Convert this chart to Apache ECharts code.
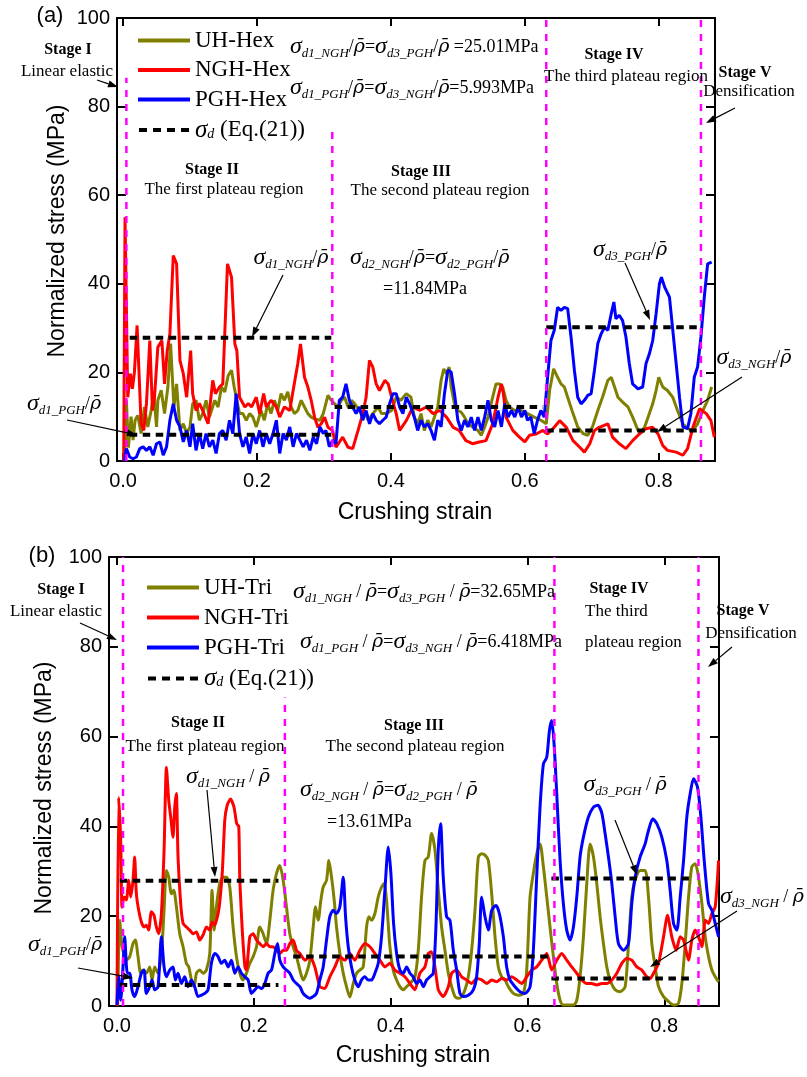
<!DOCTYPE html>
<html><head><meta charset="utf-8">
<script src="https://cdn.jsdelivr.net/npm/echarts@6/dist/echarts.min.js"></script>
<style>html,body{margin:0;padding:0;background:#fff}#c{width:807px;height:1077px}</style>
</head><body><div id="c"></div>
<script>
// ---------- DATA ----------
const xTickValues = [0, 0.2, 0.4, 0.6, 0.8];
const yTickInterval = 20;

// (a) hexagonal
const uhHex = [[0.002,0],[0.005,13.7],[0.008,3],[0.012,10],[0.015,4.7],[0.018,9.2],[0.022,10.3],[0.027,6.2],[0.032,12.2],[0.037,7.7],[0.042,11.4],[0.046,15.2],[0.05,7.7],[0.052,13.7],[0.057,16],[0.062,10.7],[0.067,16.7],[0.071,26.5],[0.076,12.2],[0.08,17.4],[0.085,6.9],[0.09,8.4],[0.095,6.2],[0.1,7.7],[0.104,12.9],[0.109,13.7],[0.114,9.2],[0.119,10.7],[0.124,13.7],[0.129,9.9],[0.137,13.7],[0.142,12.2],[0.147,16.7],[0.152,15.6],[0.157,19.3],[0.162,20.5],[0.166,16.7],[0.169,14.4],[0.174,10.7],[0.179,10.7],[0.184,9.2],[0.189,10.7],[0.194,9.9],[0.199,7.7],[0.206,11.4],[0.211,9.2],[0.216,12.9],[0.221,10.7],[0.226,13.7],[0.231,11.4],[0.236,15.2],[0.241,13.7],[0.246,15.6],[0.251,12.2],[0.256,10.7],[0.261,11.4],[0.266,13.7],[0.271,12.2],[0.276,10.7],[0.281,9.9],[0.286,9.5],[0.294,9.2],[0.299,10.7],[0.306,14.8],[0.311,13.7],[0.316,12.9],[0.321,12.2],[0.326,13.7],[0.331,14.4],[0.336,12.2],[0.341,13.7],[0.346,12.9],[0.356,10.7],[0.361,11.4],[0.366,9.2],[0.373,10.7],[0.381,12.2],[0.386,10.7],[0.393,10.7],[0.401,11.4],[0.408,14.4],[0.415,13.7],[0.423,15.2],[0.43,14.4],[0.435,9.9],[0.44,8.4],[0.445,10.7],[0.45,6.9],[0.455,9.2],[0.46,7.7],[0.465,9.9],[0.47,12.2],[0.475,18.2],[0.479,20.8],[0.483,19.7],[0.487,21.2],[0.49,16.7],[0.495,12.9],[0.5,11.4],[0.505,11],[0.51,9.9],[0.515,8.4],[0.522,7.7],[0.53,6.9],[0.535,5.8],[0.54,7.7],[0.545,9.9],[0.552,14.4],[0.557,17.4],[0.562,17.4],[0.567,16.7],[0.572,13.7],[0.577,12.2],[0.585,11.4],[0.595,11.4],[0.604,10.7],[0.614,9.9],[0.624,9.2],[0.632,8.4],[0.637,15.9],[0.643,20.8],[0.649,18.9],[0.654,17.4],[0.659,16.7],[0.664,14.4],[0.672,10.7],[0.679,7.7],[0.687,6.2],[0.694,5.8],[0.701,7.7],[0.709,11.4],[0.716,14.4],[0.724,18.2],[0.729,18.9],[0.734,16.7],[0.739,14.4],[0.746,13.3],[0.754,12.2],[0.761,9.9],[0.769,6.9],[0.774,6.5],[0.779,7.7],[0.784,9.9],[0.791,12.9],[0.796,15.9],[0.8,18.9],[0.806,16.7],[0.813,15.9],[0.821,14.4],[0.828,11.4],[0.836,8.4],[0.843,7.3],[0.851,6.9],[0.858,8.4],[0.866,11.4],[0.873,13.7],[0.879,16.7]];
const ngHex = [[0.001,0],[0.003,55],[0.0055,30],[0.007,14.4],[0.011,19.7],[0.014,16.3],[0.017,20],[0.021,30.6],[0.027,8.4],[0.031,6.9],[0.035,13],[0.04,27.2],[0.044,11.4],[0.047,14.4],[0.052,25.7],[0.058,27.2],[0.062,17.4],[0.066,24.9],[0.07,28.7],[0.075,46.4],[0.08,44.5],[0.085,22.7],[0.09,19.7],[0.095,14.4],[0.101,24.9],[0.104,15.2],[0.109,11.4],[0.114,13],[0.119,11.4],[0.127,8.4],[0.134,18.2],[0.138,15.2],[0.144,16.7],[0.149,17.4],[0.156,44.5],[0.162,41.5],[0.167,26.4],[0.17,24.9],[0.174,14.4],[0.182,12.2],[0.187,13],[0.192,12.2],[0.199,14.4],[0.204,10.7],[0.21,15.2],[0.214,12.2],[0.221,13.7],[0.229,12.2],[0.234,9.9],[0.241,12.2],[0.249,11.4],[0.254,15.9],[0.261,22],[0.265,26.4],[0.271,18.9],[0.276,16.7],[0.281,13.7],[0.286,9.9],[0.291,7.6],[0.296,8.4],[0.301,9.9],[0.306,7.6],[0.313,6.9],[0.318,3.1],[0.328,5.4],[0.336,3.1],[0.343,2.8],[0.351,6.9],[0.358,10.7],[0.363,14.4],[0.368,22.7],[0.373,21.2],[0.378,17.4],[0.383,15.9],[0.391,18.2],[0.396,17.4],[0.401,14.4],[0.408,10.7],[0.413,6.9],[0.423,9.1],[0.433,12.2],[0.443,11.4],[0.453,12.2],[0.463,10.7],[0.473,11.4],[0.483,9.9],[0.493,7.6],[0.502,6.9],[0.512,4.6],[0.522,3.9],[0.532,4.3],[0.542,4.6],[0.552,8.4],[0.56,14.4],[0.565,17.4],[0.568,15.2],[0.572,9.9],[0.582,6.9],[0.592,5.4],[0.6,4.3],[0.607,5.8],[0.617,6.1],[0.627,6.9],[0.634,6.1],[0.642,7.3],[0.652,9.1],[0.662,7.6],[0.672,4.6],[0.682,3.1],[0.689,2],[0.697,3.9],[0.704,6.9],[0.711,7.6],[0.724,8.4],[0.731,5.4],[0.741,3.9],[0.751,2.8],[0.761,4.6],[0.771,6.1],[0.781,7.3],[0.791,7.6],[0.799,6.1],[0.806,3.5],[0.813,2.4],[0.826,2],[0.836,1.3],[0.843,2.8],[0.851,7.6],[0.861,11.8],[0.871,10.7],[0.878,9.1],[0.883,5.4]];
const pgHex = [[0.002,0],[0.005,2.8],[0.01,0.9],[0.015,0.5],[0.02,0.9],[0.025,2.8],[0.03,3.2],[0.035,2.4],[0.04,3.2],[0.045,1.3],[0.05,3.9],[0.055,4.3],[0.06,1.3],[0.065,3.2],[0.07,9.2],[0.075,12.9],[0.08,9.2],[0.085,7.7],[0.09,4.3],[0.095,6.9],[0.1,3.2],[0.104,8.4],[0.109,2.4],[0.114,6.2],[0.119,2.8],[0.124,6.2],[0.129,3.2],[0.134,4.7],[0.139,1.7],[0.144,6.2],[0.149,6.9],[0.154,4.7],[0.159,9.2],[0.164,6.2],[0.169,15.2],[0.174,6.2],[0.179,3.2],[0.184,5.4],[0.189,1.7],[0.194,6.2],[0.199,3.9],[0.204,6.9],[0.209,3.2],[0.214,6.2],[0.219,3.9],[0.224,6.2],[0.229,9.2],[0.234,1.7],[0.239,6.2],[0.244,4.7],[0.249,7.7],[0.254,3.2],[0.259,6.2],[0.264,4.7],[0.269,3.2],[0.274,4.7],[0.279,2.4],[0.284,5.4],[0.289,3.9],[0.294,7.7],[0.299,6.2],[0.303,6.9],[0.308,3.2],[0.313,4.7],[0.318,3.9],[0.323,13.7],[0.328,14.4],[0.333,17.4],[0.338,13.7],[0.343,12.2],[0.348,10.7],[0.353,12.2],[0.358,9.2],[0.363,11.4],[0.368,8.4],[0.373,10.7],[0.378,9.2],[0.383,8.4],[0.388,9.2],[0.393,9.9],[0.398,12.9],[0.403,15.2],[0.408,15.2],[0.413,12.2],[0.418,10.7],[0.423,14.4],[0.428,12.9],[0.435,9.9],[0.44,6.9],[0.445,9.2],[0.45,7.7],[0.455,8.4],[0.46,6.9],[0.465,4.7],[0.47,9.2],[0.475,7.7],[0.48,15.2],[0.485,20.5],[0.49,20.1],[0.495,15.2],[0.5,9.2],[0.505,6.9],[0.51,9.2],[0.515,7.7],[0.52,9.9],[0.525,6.9],[0.53,9.9],[0.535,6.9],[0.54,9.9],[0.545,13.7],[0.55,9.2],[0.555,7.7],[0.56,11.4],[0.565,7.7],[0.57,12.9],[0.575,9.9],[0.58,11.4],[0.585,9.9],[0.59,12.2],[0.595,9.9],[0.6,11.4],[0.604,9.2],[0.609,9.9],[0.614,6.2],[0.619,9.2],[0.624,11.4],[0.629,9.9],[0.634,18.9],[0.639,27.2],[0.644,29.5],[0.649,34.7],[0.654,34],[0.659,34.7],[0.664,34.4],[0.669,28],[0.674,20.5],[0.679,14.4],[0.684,12.9],[0.689,13.7],[0.694,14.8],[0.699,15.2],[0.704,20.5],[0.709,26.5],[0.714,28.7],[0.719,30.2],[0.724,29.5],[0.729,33.2],[0.733,35.9],[0.736,32.1],[0.741,32.9],[0.746,31.7],[0.751,28],[0.756,22],[0.761,17.4],[0.769,16.3],[0.776,16.7],[0.781,22],[0.786,24.2],[0.791,27.2],[0.796,33.2],[0.801,40],[0.804,41.5],[0.809,39.2],[0.816,37],[0.821,29.5],[0.826,22],[0.831,14.4],[0.836,7.7],[0.843,7.3],[0.848,10.7],[0.853,18.9],[0.858,21.2],[0.863,28],[0.868,37],[0.873,44.5],[0.879,44.9]];
// sigma_d segments: [x start, x end, level]
const sigdHex = [[0.01,0.311,27.8],[0.01,0.311,5.9],[0.316,0.627,12.2],[0.632,0.861,30.2],[0.632,0.861,6.9]];
// stage boundaries: [x, top]
const stageHex = [[0.005,86.5],[0.3125,75.7],[0.632,100],[0.863,100]];

// (b) triangular
const uhTri = [[0.001,0],[0.0039,19.1],[0.0073,13.2],[0.0102,11.7],[0.0137,10.2],[0.0185,11],[0.0234,13.9],[0.0268,14.7],[0.0307,11],[0.0346,7.3],[0.038,8],[0.0429,7.3],[0.0478,8.7],[0.0512,5.8],[0.0551,8.7],[0.06,7.3],[0.0649,11.7],[0.0688,21.3],[0.0722,30.2],[0.0756,28.7],[0.0795,25],[0.0829,25.8],[0.0868,22.1],[0.0917,16.1],[0.0966,13.2],[0.1014,9.5],[0.1049,8.7],[0.1088,5.8],[0.1127,4.3],[0.1161,7.3],[0.1209,8],[0.1258,7.3],[0.1307,8],[0.1356,11.7],[0.139,25.8],[0.1419,16.9],[0.1453,22.1],[0.1502,27.3],[0.1551,28.7],[0.16,28.7],[0.1648,26.5],[0.1697,17.6],[0.1746,11],[0.1795,7.3],[0.1843,5.8],[0.1892,7.3],[0.1941,9.5],[0.199,11],[0.2039,13.2],[0.2087,17.6],[0.2136,16.1],[0.2185,13.9],[0.2234,19.1],[0.2282,25.8],[0.2331,29.5],[0.238,31.3],[0.2429,28],[0.2477,22.1],[0.2526,16.1],[0.2575,13.2],[0.2624,11],[0.2673,8],[0.2721,5.8],[0.277,7.3],[0.2819,10.2],[0.2868,17.6],[0.2902,22.1],[0.2941,19.1],[0.298,23.6],[0.3014,26.5],[0.3063,28],[0.3097,32.4],[0.3136,28.7],[0.3175,23.6],[0.3209,17.6],[0.3258,11.7],[0.3307,7.3],[0.3355,4.3],[0.3404,2],[0.3453,5],[0.3502,7.3],[0.355,8],[0.3599,8.7],[0.3648,17.6],[0.3682,19.9],[0.3721,19.1],[0.377,20.6],[0.3819,24.3],[0.3867,26.5],[0.3906,27.3],[0.394,23.6],[0.3989,13.2],[0.4038,8],[0.4087,5.8],[0.4136,4.3],[0.4184,3.6],[0.4233,4.3],[0.4282,5],[0.4355,6.5],[0.4404,12.4],[0.4452,24.3],[0.4501,32.4],[0.455,33.2],[0.4599,38.4],[0.4648,34.7],[0.4697,25.8],[0.4745,17.6],[0.4794,12.4],[0.4843,7.3],[0.4892,4.3],[0.4941,2.1],[0.4989,1.7],[0.5038,2.1],[0.5087,3.6],[0.5135,6.5],[0.5184,12.4],[0.5233,21.3],[0.5282,33.2],[0.5331,33.9],[0.5379,33.6],[0.5428,32.4],[0.5477,25],[0.5526,15.4],[0.5574,8.7],[0.5623,6.5],[0.5672,5.8],[0.5721,4.3],[0.5794,2.8],[0.5867,2.4],[0.594,2.8],[0.5989,8],[0.6038,24.3],[0.6086,29.5],[0.6135,33.9],[0.6184,36.1],[0.6233,31],[0.6282,24.3],[0.633,17.6],[0.6379,11],[0.6428,5],[0.6477,1.3],[0.6525,0.2],[0.6672,0.2],[0.6721,1.3],[0.6769,6.5],[0.6818,15.4],[0.6867,27.3],[0.6916,36.1],[0.6965,33.2],[0.7013,27.3],[0.7062,19.9],[0.7111,13.9],[0.716,8.7],[0.7208,5.8],[0.7282,3.6],[0.7355,3.2],[0.7428,4.3],[0.7477,13.9],[0.7525,24.3],[0.7574,28],[0.7647,30.2],[0.772,30.2],[0.7769,24.3],[0.7818,13.9],[0.7867,8.7],[0.7916,4.3],[0.7989,2.1],[0.8062,1],[0.8135,0.2],[0.8208,0.6],[0.8257,5],[0.8306,13.9],[0.8355,24.3],[0.8403,31],[0.8452,31.7],[0.8501,28.7],[0.855,22.8],[0.8599,15.4],[0.8647,11],[0.8696,8],[0.8745,6.5],[0.8794,5.4]];
const ngTri = [[0,0],[0.0024,46.5],[0.0054,36.9],[0.0073,22],[0.0102,24.3],[0.0137,23.6],[0.0171,28],[0.02,24.3],[0.0234,28],[0.0258,33.2],[0.0283,25],[0.0317,21.3],[0.0356,18.7],[0.0395,17.6],[0.0429,18],[0.0463,16.9],[0.0502,21],[0.0541,20.2],[0.0575,17.6],[0.061,16.1],[0.0649,20.6],[0.0688,34.7],[0.0722,53.2],[0.0756,45.8],[0.0785,42.1],[0.0819,37.6],[0.0844,44.3],[0.0868,47.3],[0.0892,33.2],[0.0931,22.8],[0.0966,18.4],[0.1014,17.6],[0.1063,16.9],[0.1112,16.1],[0.1161,16.5],[0.1209,14.7],[0.1258,15.8],[0.1307,17.6],[0.1356,16.9],[0.139,18.7],[0.1429,18],[0.1478,20.6],[0.15,22.8],[0.154,30],[0.1575,41.3],[0.161,44.7],[0.166,46.1],[0.171,44.3],[0.175,40.6],[0.178,40],[0.1795,28],[0.1834,16.1],[0.187,8.7],[0.1892,8],[0.1941,15.4],[0.199,16.1],[0.2039,14.7],[0.2087,13.9],[0.2136,13.2],[0.2185,13.9],[0.2234,13.2],[0.2282,13.2],[0.2331,12.4],[0.238,11.7],[0.2429,12.4],[0.2477,12.4],[0.2526,13.9],[0.2575,14.7],[0.2624,12.4],[0.2673,11.7],[0.2746,10.2],[0.2819,11],[0.2892,8.7],[0.2965,4.3],[0.3038,3.9],[0.3111,6.5],[0.3185,8.7],[0.3258,11],[0.3331,10.2],[0.3404,11.7],[0.3477,10.2],[0.355,12.4],[0.3623,13.9],[0.3697,13.2],[0.377,11.7],[0.3843,10.2],[0.3916,8.7],[0.3989,9.5],[0.4062,8],[0.4136,7.3],[0.4209,6.5],[0.4282,5],[0.4355,3.6],[0.4428,7.3],[0.4501,8.7],[0.455,11.7],[0.4599,12.1],[0.4648,8.7],[0.4697,3.6],[0.477,2.1],[0.4843,4.3],[0.4892,7.3],[0.4965,8],[0.5038,6.5],[0.5111,5.8],[0.5184,5],[0.5257,6.1],[0.5331,5.8],[0.5404,5],[0.5477,5.8],[0.555,5.4],[0.5623,6.1],[0.5696,5.8],[0.5769,6.5],[0.5843,5.8],[0.5916,5],[0.5989,6.5],[0.6062,8],[0.6135,8.7],[0.6208,10.2],[0.6282,11.7],[0.6355,8],[0.6428,10.2],[0.6501,11.7],[0.6574,10.2],[0.6647,8.7],[0.6721,7.3],[0.6794,5.8],[0.6867,5],[0.694,5],[0.7013,4.7],[0.7086,5],[0.716,5],[0.7233,5.8],[0.7306,7.3],[0.7379,9.5],[0.7452,10.6],[0.7525,10.2],[0.7599,8.7],[0.7672,8],[0.7745,6.5],[0.7794,6.1],[0.7843,7.3],[0.7916,9.5],[0.7989,15.4],[0.8047,20.2],[0.811,15.4],[0.8174,12.4],[0.8233,15.4],[0.8282,14.7],[0.8354,10.2],[0.8403,14.7],[0.8452,16.9],[0.8501,15.4],[0.855,13.2],[0.8599,19.1],[0.8647,18.4],[0.8696,20.6],[0.8745,22.1],[0.8794,32.4]];
const pgTri = [[0,0.2],[0.0024,6.5],[0.0054,1.3],[0.0088,8.7],[0.0112,15.4],[0.0151,7.3],[0.0185,7.3],[0.0219,3.6],[0.0258,2.1],[0.0307,4.3],[0.0356,7.3],[0.0395,8],[0.0429,2.8],[0.0478,4.3],[0.0512,5.8],[0.0551,3.6],[0.06,4.3],[0.0649,15.4],[0.0688,8.7],[0.0722,6.5],[0.0771,8],[0.0819,8.7],[0.0853,5.8],[0.0892,7.3],[0.0941,5],[0.099,6.5],[0.1039,4.3],[0.1088,5.8],[0.1136,4.3],[0.1185,2.1],[0.1234,2.4],[0.1283,2.8],[0.1331,3.6],[0.138,9.5],[0.1429,11.7],[0.1478,11],[0.1526,9.5],[0.1575,10.2],[0.1624,8.7],[0.1673,10.2],[0.1722,7.3],[0.177,8.7],[0.1819,7.3],[0.1868,6.5],[0.1917,5.8],[0.1965,2.8],[0.2014,3.6],[0.2063,4.3],[0.2112,3.9],[0.216,5],[0.2209,7.3],[0.2258,8],[0.2307,11.7],[0.2346,13.9],[0.238,10.2],[0.2429,8.7],[0.2477,8],[0.2526,7.3],[0.2575,5.8],[0.2624,5],[0.2673,4.3],[0.2721,2.8],[0.277,2.1],[0.2819,1.7],[0.2868,2.1],[0.2916,2.8],[0.2965,5.8],[0.3014,8.7],[0.3063,14.7],[0.3111,19.9],[0.316,21.3],[0.3209,20.6],[0.3258,22.1],[0.3307,28.7],[0.3341,19.9],[0.338,13.2],[0.3428,8.7],[0.3477,5.8],[0.3526,4.3],[0.3575,5.8],[0.3623,6.5],[0.3672,5.8],[0.3721,5.8],[0.377,7.3],[0.3819,9.5],[0.3867,15.4],[0.3916,25.8],[0.3965,35.4],[0.4004,29.5],[0.4043,18.4],[0.4087,11.7],[0.4136,8],[0.4184,7.3],[0.4233,8.7],[0.4282,7.3],[0.433,6.5],[0.4379,5],[0.4428,5.8],[0.4477,4.3],[0.4526,5.8],[0.4574,6.5],[0.4623,7.3],[0.4662,17.6],[0.4696,34.7],[0.473,40.6],[0.4769,28.7],[0.4818,19.9],[0.4867,19.1],[0.4916,12.4],[0.4965,8],[0.5013,2.8],[0.5062,2.1],[0.5135,2.4],[0.5209,3.6],[0.5257,6.5],[0.5296,13.9],[0.533,24.3],[0.5379,19.9],[0.5428,16.9],[0.5477,21.3],[0.554,22.4],[0.5589,20.6],[0.5648,15.4],[0.5696,8.7],[0.5745,5.8],[0.5818,4.3],[0.5891,3.2],[0.5964,2.8],[0.6038,4.3],[0.6086,12.4],[0.6135,28.7],[0.6184,44.3],[0.6233,53.9],[0.6282,55.4],[0.6321,61.3],[0.6355,63.6],[0.6389,58.4],[0.6428,47.3],[0.6477,32.4],[0.6525,22.8],[0.6574,16.9],[0.6623,14.7],[0.6672,17.6],[0.6721,24.3],[0.6769,33.2],[0.6818,37.6],[0.6891,42.1],[0.6965,44.3],[0.7028,44.7],[0.7086,43],[0.7135,38.4],[0.7184,33.2],[0.7233,27.3],[0.7282,19.9],[0.733,13.9],[0.7404,12.4],[0.7477,13.9],[0.7525,22.8],[0.7574,28.7],[0.7647,33.2],[0.772,36.1],[0.7769,39.1],[0.7833,41.7],[0.7891,40.6],[0.7964,37.6],[0.8037,32.4],[0.8086,25.8],[0.8135,18.4],[0.8184,16.9],[0.8233,24.3],[0.8282,32.4],[0.833,42.1],[0.8379,47.3],[0.8428,50.6],[0.8486,48.7],[0.8535,42.1],[0.8584,32.4],[0.8647,22.8],[0.8696,21.3],[0.8745,18.4],[0.8794,15.4]];
const sigdTri = [[0.004,0.236,27.9],[0.004,0.236,4.7],[0.2575,0.633,11],[0.635,0.838,28.4],[0.635,0.838,6.1]];
const stageTri = [[0.0088,100],[0.2454,68.7],[0.6394,100],[0.85,100]];

// ---------- STYLE ----------
const SANS = '"Liberation Sans", Arial, sans-serif';
const SERIF = '"Liberation Serif", "Times New Roman", serif';
const DJ = '"DejaVu Serif", serif';
const OLIVE = '#808000', RED = '#ff0000', BLUE = '#0000ff', MAG = '#ff00ff';

const richMath = {
  s: {fontFamily: SERIF, fontStyle: 'italic', fontSize: 24, lineHeight: 26, verticalAlign: 'middle', color: '#000'},
  b: {fontFamily: SERIF, fontStyle: 'italic', fontSize: 13, lineHeight: 14, verticalAlign: 'bottom', color: '#000'},
  r: {fontFamily: DJ, fontStyle: 'italic', fontSize: 19, lineHeight: 26, verticalAlign: 'middle', color: '#000'},
  n: {fontFamily: SERIF, fontSize: 18, lineHeight: 26, verticalAlign: 'middle', color: '#000'}
};
const richLegend = {
  s: {fontFamily: SERIF, fontStyle: 'italic', fontSize: 25, lineHeight: 22, verticalAlign: 'middle', color: '#000'},
  b: {fontFamily: SERIF, fontStyle: 'italic', fontSize: 14, lineHeight: 12, verticalAlign: 'bottom', color: '#000'},
  l: {fontFamily: SERIF, fontSize: 23, lineHeight: 22, verticalAlign: 'middle', color: '#000'}
};
const sg = sub => '{s|σ}{b|' + sub + '}';
const RHO = '{n|/}{r|ρ̄}';

function axesFor(gi, xmin, xmax) {
  const common = {gridIndex: gi, type: 'value', min: xmin, max: xmax, splitLine: {show: false},
    axisLine: {show: true, onZero: false, lineStyle: {color: '#000', width: 2}}};
  const xb = Object.assign({}, common, {position: 'bottom',
    axisTick: {show: true, inside: true, length: 8, customValues: xTickValues, lineStyle: {color: '#000', width: 2}},
    axisLabel: {show: true, customValues: xTickValues, formatter: v => v.toFixed(1), fontFamily: SANS, fontSize: 20, color: '#000', margin: 10}});
  const xt = Object.assign({}, common, {position: 'top',
    axisTick: {show: true, inside: true, length: 8, customValues: xTickValues, lineStyle: {color: '#000', width: 2}},
    axisLabel: {show: false}});
  const ycommon = {gridIndex: gi, type: 'value', min: 0, max: 100, interval: yTickInterval, splitLine: {show: false},
    axisLine: {show: true, onZero: false, lineStyle: {color: '#000', width: 2}},
    axisTick: {show: true, inside: true, length: 9, lineStyle: {color: '#000', width: 2}}};
  const yl = Object.assign({}, ycommon, {position: 'left',
    axisLabel: {show: true, fontFamily: SANS, fontSize: 20, color: '#000', margin: 7}});
  const yr = Object.assign({}, ycommon, {position: 'right', axisLabel: {show: false}});
  return {x: [xb, xt], y: [yl, yr]};
}
const A = axesFor(0, -0.009, 0.884);
const B = axesFor(1, -0.0117, 0.880);

const series = [];
function dataLine(name, data, color, xi, yi, smooth) {
  series.push({name, type: 'line', data, xAxisIndex: xi, yAxisIndex: yi, showSymbol: false, symbol: 'none',
    smooth: smooth || false, lineStyle: {color, width: 3}, itemStyle: {color}, z: 2, animation: false});
}
function sigdLines(name, segs, xi, yi) {
  segs.forEach(s => series.push({name, type: 'line', data: [[s[0], s[2]], [s[1], s[2]]], xAxisIndex: xi, yAxisIndex: yi,
    showSymbol: false, symbol: 'none', lineStyle: {color: '#000', width: 4, type: [7.5, 5.5]}, itemStyle: {color: '#000'}, z: 4, animation: false}));
}
function stageLines(list, xi, yi) {
  list.forEach(s => series.push({name: 'stage', type: 'line', data: [[s[0], 0], [s[0], s[1]]], xAxisIndex: xi, yAxisIndex: yi,
    showSymbol: false, symbol: 'none', silent: true, lineStyle: {color: MAG, width: 2.5, type: [7, 7]}, z: 5, animation: false}));
}
dataLine('UH-Hex', uhHex, OLIVE, 0, 0);
dataLine('NGH-Hex', ngHex, RED, 0, 0);
dataLine('PGH-Hex', pgHex, BLUE, 0, 0);
sigdLines('sigdA', sigdHex, 0, 0);
stageLines(stageHex, 0, 0);
dataLine('UH-Tri', uhTri, OLIVE, 2, 2, 0.25);
dataLine('NGH-Tri', ngTri, RED, 2, 2, 0.2);
dataLine('PGH-Tri', pgTri, BLUE, 2, 2, 0.25);
sigdLines('sigdB', sigdTri, 2, 2);
stageLines(stageTri, 2, 2);

const DASH_ICON = 'path://M0,0H8V4H0Z M14,0H22V4H14Z M28,0H36V4H28Z M42,0H50V4H42Z';
const legendFmt = n => (n === 'sigdA' || n === 'sigdB') ? '{s|σ}{b|d}{l| (Eq.(21))}' : '{l|' + n + '}';
function legendAt(names, left, top, gap) {
  return {data: names.map((n, i) => ({name: n, icon: i === 3 ? DASH_ICON : 'rect'})), left, top, orient: 'vertical',
    itemWidth: 52, itemHeight: 4, itemGap: gap, itemTextGap: 5, selectedMode: false, formatter: legendFmt,
    textStyle: {fontFamily: SERIF, fontSize: 23, lineHeight: 22, color: '#000', rich: richLegend}};
}

// ---------- ANNOTATIONS ----------
const G = [];
function txt(x, y, text, opt) {
  G.push({type: 'text', x, y, silent: true, z: 100, style: Object.assign({text, fill: '#000', fontFamily: SERIF, fontSize: 17,
    align: 'center', verticalAlign: 'middle', rich: richMath}, opt || {})});
}
function bold(x, y, t) { txt(x, y, t, {fontWeight: 'bold', fontSize: 16}); }
function arrow(x1, y1, x2, y2) {
  const a = Math.atan2(y2 - y1, x2 - x1), L = 10, W = 3.5;
  const bx = x2 - L * Math.cos(a), by = y2 - L * Math.sin(a);
  G.push({type: 'line', silent: true, z: 100, shape: {x1, y1, x2: bx, y2: by}, style: {stroke: '#000', lineWidth: 1.2}});
  G.push({type: 'polygon', silent: true, z: 100, shape: {points: [[x2, y2], [bx + W * Math.sin(a), by - W * Math.cos(a)], [bx - W * Math.sin(a), by + W * Math.cos(a)]]}, style: {fill: '#000'}});
}
function rot(x, y, t) { G.push({type: 'text', x, y, rotation: Math.PI / 2, silent: true, style: {text: t, fill: '#000', fontFamily: SANS, fontSize: 23, align: 'center', verticalAlign: 'middle'}}); }
rot(58, 231, 'Normalized stress (MPa)');
rot(45, 788, 'Normalized stress (MPa)');
txt(415, 513, 'Crushing strain', {fontFamily: SANS, fontSize: 23});
txt(413, 1056, 'Crushing strain', {fontFamily: SANS, fontSize: 23});
txt(50, 16, '(a)', {fontFamily: SANS, fontSize: 22});
txt(42, 556, '(b)', {fontFamily: SANS, fontSize: 22});

// (a)
bold(68, 50, 'Stage I'); txt(67, 72, 'Linear elastic');
arrow(97, 80, 118, 87);
txt(290, 47, sg('d1_NGH') + RHO + '{n|=}' + sg('d3_PGH') + RHO + '{n| =25.01MPa}', {align: 'left'});
txt(290, 88, sg('d1_PGH') + RHO + '{n|=}' + sg('d3_NGH') + RHO + '{n|=5.993MPa}', {align: 'left'});
bold(212, 170, 'Stage II'); txt(224, 190, 'The first plateau region');
bold(421, 172, 'Stage III'); txt(440, 191, 'The second plateau region');
bold(614, 55, 'Stage IV'); txt(626, 77, 'The third plateau region');
bold(745, 73, 'Stage V'); txt(749, 92, 'Densification');
arrow(735, 108, 706, 123);
txt(291, 258, sg('d1_NGH') + RHO);
arrow(283, 275, 252, 337);
txt(350, 258, sg('d2_NGH') + RHO + '{n|=}' + sg('d2_PGH') + RHO, {align: 'left'});
txt(383, 289, '{n|=11.84MPa}', {align: 'left'});
txt(630, 250, sg('d3_PGH') + RHO);
arrow(625, 263, 650, 320);
txt(754, 358, sg('d3_NGH') + RHO);
arrow(742, 377, 657, 432);
txt(64, 404, sg('d1_PGH') + RHO);
arrow(67, 420, 137, 435);

// (b)
const RHO2 = '{n| / }{r|ρ̄}';
bold(61, 590, 'Stage I'); txt(56, 612, 'Linear elastic');
arrow(80, 623, 117, 640);
txt(293, 592, sg('d1_NGH') + RHO2 + '{n|=}' + sg('d3_PGH') + RHO2 + '{n|=32.65MPa}', {align: 'left'});
txt(300, 642, sg('d1_PGH') + RHO2 + '{n|=}' + sg('d3_NGH') + RHO2 + '{n|=6.418MPa}', {align: 'left'});
bold(198, 723, 'Stage II'); txt(205, 747, 'The first plateau region');
bold(414, 726, 'Stage III'); txt(415, 747, 'The second plateau region');
bold(619, 589, 'Stage IV'); txt(585, 612, 'The third', {align: 'left'}); txt(585, 643, 'plateau region', {align: 'left'});
bold(743, 611, 'Stage V'); txt(751, 634, 'Densification');
arrow(732, 647, 708, 667);
txt(228, 777, sg('d1_NGH') + RHO2);
arrow(207, 790, 215, 877);
txt(300, 790, sg('d2_NGH') + RHO2 + '{n|=}' + sg('d2_PGH') + RHO2, {align: 'left'});
txt(327, 822, '{n|=13.61MPa}', {align: 'left'});
txt(625, 785, sg('d3_PGH') + RHO2);
arrow(615, 820, 637, 875);
txt(762, 897, sg('d3_NGH') + RHO2);
arrow(737, 911, 650, 967);
txt(65, 945, sg('d1_PGH') + RHO);
arrow(78, 968, 133, 978);

const chart = echarts.init(document.getElementById('c'), null, {renderer: 'canvas'});
chart.setOption({
  animation: false,
  backgroundColor: '#fff',
  grid: [{left: 117, top: 18, width: 598, height: 443}, {left: 109, top: 557, width: 610, height: 449}],
  xAxis: [A.x[0], A.x[1], B.x[0], B.x[1]],
  yAxis: [A.y[0], A.y[1], B.y[0], B.y[1]],
  legend: [legendAt(['UH-Hex', 'NGH-Hex', 'PGH-Hex', 'sigdA'], 133, 24, 6.5),
           legendAt(['UH-Tri', 'NGH-Tri', 'PGH-Tri', 'sigdB'], 142, 571, 7)],
  series,
  graphic: G
});
</script></body></html>
